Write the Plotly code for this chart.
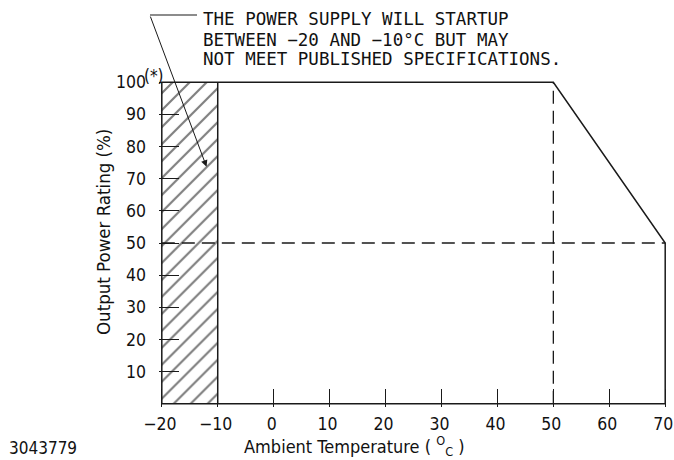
import plotly.graph_objects as go

# ---------------- data ----------------
x_ticks = [-20, -10, 0, 10, 20, 30, 40, 50, 60, 70]
x_tick_labels = ["−20", "−10", "0", "10", "20", "30", "40", "50", "60", "70"]
y_ticks = [10, 20, 30, 40, 50, 60, 70, 80, 90, 100]
y_tick_labels = ["10", "20", "30", "40", "50", "60", "70", "80", "90", "100"]

# derating outline (temperature °C, output %)
outline_temp = [-20, -20, 50, 70, 70, -20]
outline_power = [0, 100, 100, 50, 0, 0]

# startup-only band
band_temp = [-20, -10, -10, -20, -20]
band_power = [0, 0, 100, 100, 0]
band_edge_temp = [-10, -10]
band_edge_power = [0, 100]

# reference dashed lines
half_line_temp = [-20, 70]
half_line_power = [50, 50]
knee_line_temp = [50, 50]
knee_line_power = [0, 100]

note_lines = [
    "THE POWER SUPPLY WILL STARTUP",
    "BETWEEN −20 AND −10°C BUT MAY",
    "NOT MEET PUBLISHED SPECIFICATIONS.",
]
arrow_tip = (-12.0, 73.7)
drawing_number = "3043779"

# ---------------- layout geometry ----------------
W, H = 674, 460
L, R, T, B = 159, 6, 79, 53
PW, PH = W - L - R, H - T - B


def px(X):
    return (X - L) / PW


def py(Y):
    return (H - B - Y) / PH


LINE = "#1a1a1a"
TICKFONT = dict(family="DejaVu Sans Condensed", size=17.5, color="#111")

fig = go.Figure()

# hatched band
fig.add_trace(go.Scatter(
    x=band_temp, y=band_power, mode="lines", fill="toself",
    line=dict(width=0, color=LINE),
    fillcolor="white",
    fillpattern=dict(shape="/", fgcolor="#000", bgcolor="white", size=12, solidity=0.18),
    hoverinfo="skip", showlegend=False,
))

# dashed lines
for xs, ys in [(half_line_temp, half_line_power), (knee_line_temp, knee_line_power)]:
    fig.add_trace(go.Scatter(
        x=xs, y=ys, mode="lines",
        line=dict(color=LINE, width=1.3, dash="13px,7px"),
        hoverinfo="skip", showlegend=False,
    ))

# band edge
fig.add_trace(go.Scatter(
    x=band_edge_temp, y=band_edge_power, mode="lines",
    line=dict(color=LINE, width=1.5), hoverinfo="skip", showlegend=False,
))

# outline
fig.add_trace(go.Scatter(
    x=outline_temp, y=outline_power, mode="lines",
    line=dict(color=LINE, width=1.5), hoverinfo="skip", showlegend=False,
))

fig.update_xaxes(
    range=[-20.5, 70.5], tickmode="array", tickvals=x_ticks, ticktext=x_tick_labels,
    ticks="inside", ticklen=18, tickwidth=1.3, tickcolor=LINE,
    showgrid=False, zeroline=False, showline=False, automargin=False,
    tickfont=TICKFONT, ticklabelstandoff=4, ticklabelshift=-2,
    ticklabeloverflow="allow",
)
fig.update_yaxes(
    range=[-1, 101], tickmode="array", tickvals=y_ticks, ticktext=y_tick_labels,
    ticks="inside", ticklen=20, tickwidth=1.3, tickcolor=LINE,
    showgrid=False, zeroline=False, showline=False, automargin=False,
    tickfont=TICKFONT, ticklabelstandoff=12, ticklabeloverflow="allow",
)

annotations = []
# note text
for txt, yc in zip(note_lines, [19, 39.5, 59]):
    annotations.append(dict(
        text=txt, xref="paper", yref="paper", x=px(201), y=py(yc),
        xanchor="left", yanchor="middle", showarrow=False,
        font=dict(family="DejaVu Sans Mono", size=17.5, color="#111"),
    ))
# arrow
annotations.append(dict(
    text="", x=arrow_tip[0], y=arrow_tip[1], xref="x", yref="y",
    ax=150 - 206.7, ay=15 - 166.7, axref="pixel", ayref="pixel",
    showarrow=True, arrowhead=2, arrowsize=1.3, arrowwidth=1, arrowcolor=LINE,
    standoff=0,
))
# (*)
annotations.append(dict(
    text="(*)", xref="paper", yref="paper", x=px(154), y=py(76),
    xanchor="center", yanchor="middle", showarrow=False,
    font=dict(family="DejaVu Sans Condensed", size=17, color="#111"),
))
# axis titles
annotations.append(dict(
    text="Ambient Temperature ( <sup>O</sup><sub>C</sub> )",
    xref="paper", yref="paper", x=px(354), y=py(446),
    xanchor="center", yanchor="middle", showarrow=False,
    font=dict(family="DejaVu Sans Condensed", size=18, color="#111"),
))
annotations.append(dict(
    text="Output Power Rating (%)",
    xref="paper", yref="paper", x=px(103), y=py(232),
    xanchor="center", yanchor="middle", showarrow=False, textangle=-90,
    font=dict(family="DejaVu Sans Condensed", size=18.5, color="#111"),
))
annotations.append(dict(
    text=drawing_number, xref="paper", yref="paper", x=px(7), y=py(448),
    xanchor="left", yanchor="middle", showarrow=False,
    font=dict(family="DejaVu Sans Condensed", size=17, color="#111"),
))

fig.update_layout(
    width=W, height=H,
    margin=dict(l=L, r=R, t=T, b=B, pad=0, autoexpand=False),
    paper_bgcolor="white", plot_bgcolor="white",
    annotations=annotations,
    shapes=[dict(type="line", xref="paper", yref="paper",
                 x0=px(150), x1=px(197), y0=py(15), y1=py(15),
                 line=dict(color=LINE, width=1.2))],
)

fig.write_html(
    "out.html",
    config={"displayModeBar": False},
    post_script="document.body.style.margin='0';document.body.style.padding='0';",
)
